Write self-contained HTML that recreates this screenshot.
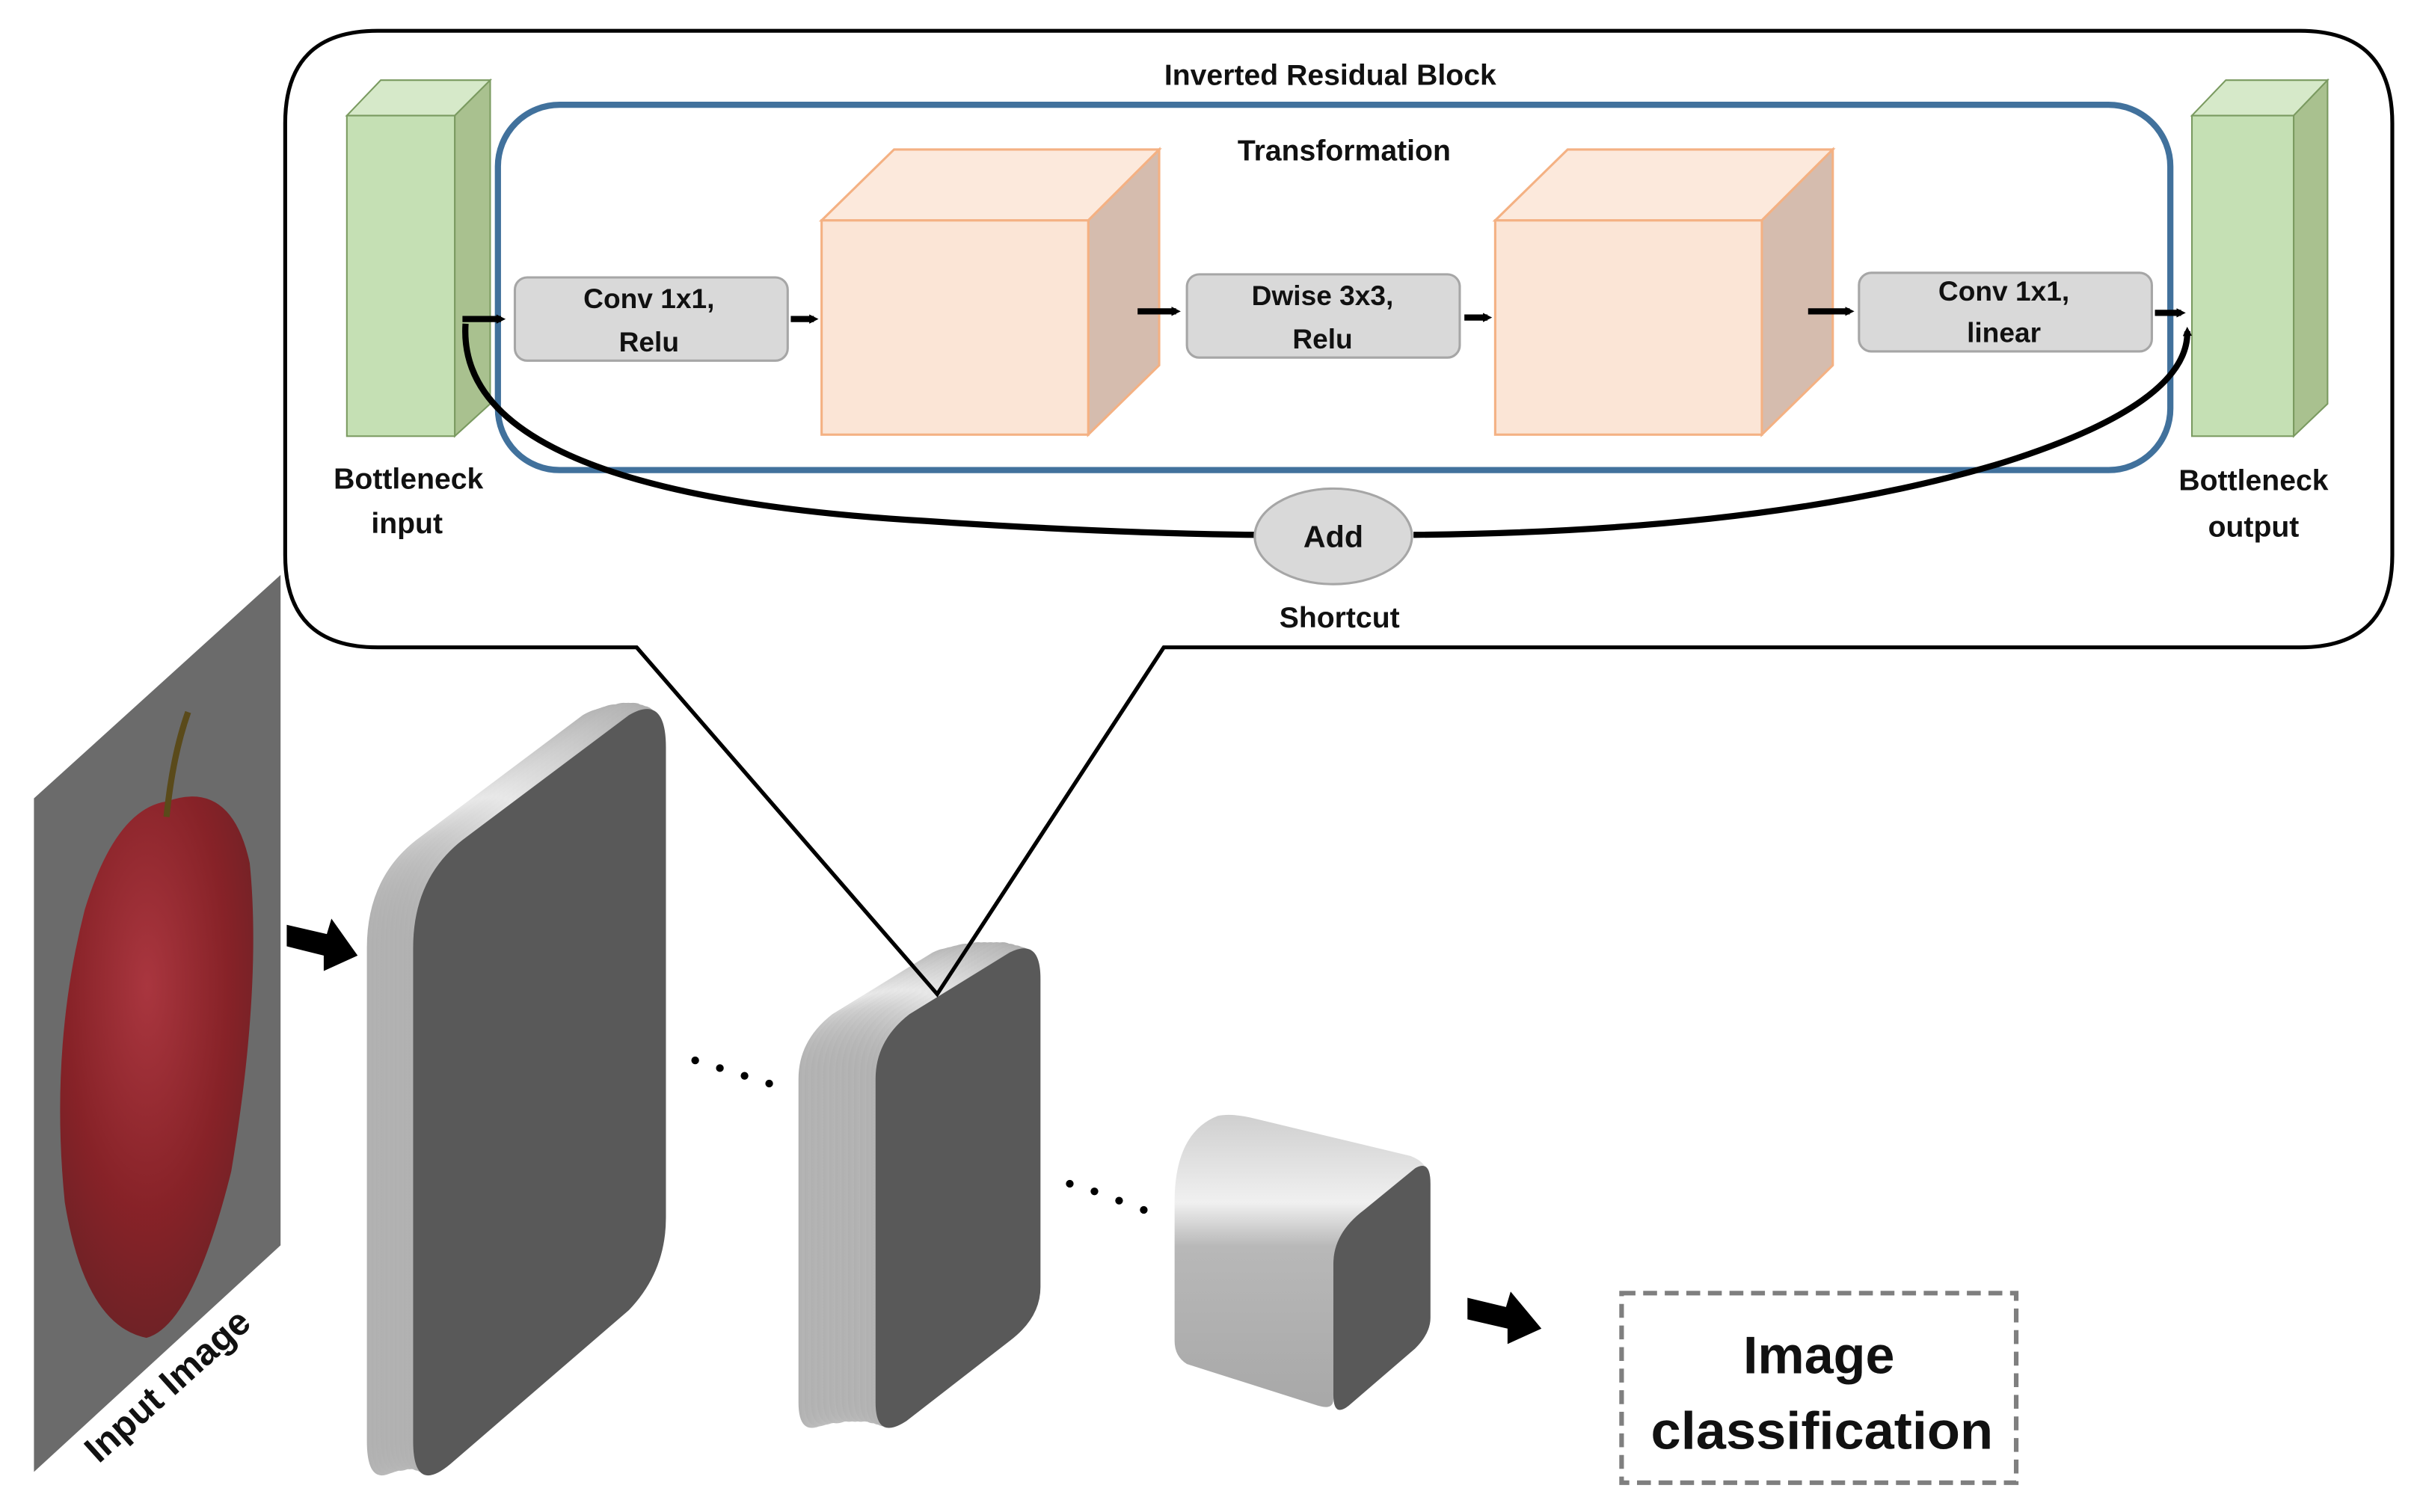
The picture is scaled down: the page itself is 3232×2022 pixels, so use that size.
<!DOCTYPE html>
<html><head><meta charset="utf-8"><style>
html,body{margin:0;padding:0;background:#fff;}
svg{display:block;}
text{font-family:"Liberation Sans",sans-serif;font-weight:bold;fill:#111;}
</style></head><body>
<svg width="3232" height="2022" viewBox="0 0 1568 981" xmlns="http://www.w3.org/2000/svg">
<defs>
<linearGradient id="lg" x1="0" y1="0" x2="1" y2="0"><stop offset="0" stop-color="#b0b0b0"/><stop offset="0.4" stop-color="#e8e8e8"/><stop offset="1" stop-color="#a8a8a8"/></linearGradient>
<linearGradient id="cg" x1="0" y1="0" x2="0" y2="1"><stop offset="0" stop-color="#cfcfcf"/><stop offset="0.3" stop-color="#f0f0f0"/><stop offset="0.45" stop-color="#b8b8b8"/><stop offset="1" stop-color="#a8a8a8"/></linearGradient>
<radialGradient id="ap" cx="0.45" cy="0.35" r="0.7"><stop offset="0" stop-color="#b0303a"/><stop offset="0.6" stop-color="#8a1a20"/><stop offset="1" stop-color="#6a1a1e"/></radialGradient>
<marker id="ah" markerWidth="6" markerHeight="6" refX="3" refY="3" orient="auto" markerUnits="userSpaceOnUse"><path d="M0,0 L6,3 L0,6 Z" fill="#000"/></marker>
<path id="s1" d="M268,615 Q268,570 300,545 L408,464 Q432,450 432,485 L432,790 Q432,825 408,850 L292,950 Q268,970 268,935 Z"/>
<path id="s2" d="M568,700 Q568,675 590,658 L655,618 Q675,608 675,635 L675,835 Q675,855 655,870 L588,922 Q568,935 568,910 Z"/>
</defs>

<!-- callout -->
<path d="M245,20 H1492 Q1552,20 1552,80 V360 Q1552,420 1492,420 H755 L608,645 L413,420 H245 Q185,420 185,360 V80 Q185,20 245,20 Z" fill="#fff" stroke="#000" stroke-width="2.5"/>
<text x="863" y="55" font-size="19" text-anchor="middle">Inverted Residual Block</text>

<rect x="323" y="68" width="1085" height="237" rx="40" fill="none" stroke="#41719c" stroke-width="4"/>
<text x="872" y="104" font-size="19" text-anchor="middle">Transformation</text>

<!-- green blocks -->
<polygon points="225,75 247,52 318,52 295,75" fill="#d6e9c9" stroke="#7a9a60"/>
<polygon points="295,75 318,52 318,262 295,283" fill="#a9c18f" stroke="#7a9a60"/>
<rect x="225" y="75" width="70" height="208" fill="#c5e0b4" stroke="#7a9a60"/>
<polygon points="1422,75 1444,52 1510,52 1488,75" fill="#d6e9c9" stroke="#7a9a60"/>
<polygon points="1488,75 1510,52 1510,262 1488,283" fill="#a9c18f" stroke="#7a9a60"/>
<rect x="1422" y="75" width="66" height="208" fill="#c5e0b4" stroke="#7a9a60"/>

<!-- orange cubes -->
<g stroke="#f4b183" stroke-width="1.5">
<polygon points="533,143 580,97 752,97 706,143" fill="#fce9dc"/>
<polygon points="706,143 752,97 752,237 706,282" fill="#d5bcae"/>
<rect x="533" y="143" width="173" height="139" fill="#fbe5d6"/>
<polygon points="970,143 1017,97 1189,97 1143,143" fill="#fce9dc"/>
<polygon points="1143,143 1189,97 1189,237 1143,282" fill="#d5bcae"/>
<rect x="970" y="143" width="173" height="139" fill="#fbe5d6"/>
</g>

<!-- gray op boxes -->
<g fill="#d9d9d9" stroke="#a6a6a6" stroke-width="1.5">
<rect x="334" y="180" width="177" height="54" rx="8"/>
<rect x="770" y="178" width="177" height="54" rx="8"/>
<rect x="1206" y="177" width="190" height="51" rx="8"/>
</g>
<text x="421" y="200" font-size="18" text-anchor="middle">Conv 1x1,</text>
<text x="421" y="228" font-size="18" text-anchor="middle">Relu</text>
<text x="858" y="198" font-size="18" text-anchor="middle">Dwise 3x3,</text>
<text x="858" y="226" font-size="18" text-anchor="middle">Relu</text>
<text x="1300" y="195" font-size="18" text-anchor="middle">Conv 1x1,</text>
<text x="1300" y="222" font-size="18" text-anchor="middle">linear</text>

<!-- small arrows -->
<g stroke="#000" stroke-width="4" marker-end="url(#ah)">
<line x1="300" y1="207" x2="325" y2="207"/>
<line x1="513" y1="207" x2="528" y2="207"/>
<line x1="738" y1="202" x2="763" y2="202"/>
<line x1="950" y1="206" x2="965" y2="206"/>
<line x1="1173" y1="202" x2="1200" y2="202"/>
<line x1="1398" y1="203" x2="1415" y2="203"/>
</g>

<!-- shortcut -->
<path d="M302,210 Q295,320 600,338 Q720,346 815,347" fill="none" stroke="#000" stroke-width="4"/>
<path d="M917,347 Q1150,345 1300,300 Q1420,262 1419,215" fill="none" stroke="#000" stroke-width="4" marker-end="url(#ah)"/>
<ellipse cx="865" cy="348" rx="51" ry="31" fill="#d9d9d9" stroke="#a6a6a6" stroke-width="1.5"/>
<text x="865" y="355" font-size="20" text-anchor="middle">Add</text>
<text x="869" y="407" font-size="19" text-anchor="middle">Shortcut</text>
<text x="265" y="317" font-size="19" text-anchor="middle">Bottleneck</text>
<text x="264" y="346" font-size="19" text-anchor="middle">input</text>
<text x="1462" y="318" font-size="19" text-anchor="middle">Bottleneck</text>
<text x="1462" y="348" font-size="19" text-anchor="middle">output</text>

<!-- input image -->
<polygon points="22,518 182,373 182,808 22,955" fill="#6b6b6b"/>
<path d="M108,520 Q150,505 162,560 Q170,640 150,760 Q125,860 95,868 Q55,860 42,780 Q32,680 55,590 Q75,525 108,520 Z" fill="url(#ap)" opacity="0.9"/>
<path d="M108,530 Q112,490 122,462" stroke="#5a4a1a" stroke-width="4" fill="none"/>
<text x="0" y="0" font-size="24" transform="translate(64,950) rotate(-42)">Input Image</text>

<!-- arrows -->
<polygon points="186,600 212,606 215,596 232,620 210,630 210,620 186,614" fill="#000"/>
<polygon points="952,842 977,848 980,838 1000,862 978,872 978,862 952,856" fill="#000"/>

<!-- slab 1 -->
<g fill="url(#lg)">
<use href="#s1" transform="translate(-30,0)"/><use href="#s1" transform="translate(-27,-1)"/><use href="#s1" transform="translate(-24,-2)"/><use href="#s1" transform="translate(-21,-3)"/><use href="#s1" transform="translate(-18,-3)"/><use href="#s1" transform="translate(-15,-4)"/><use href="#s1" transform="translate(-12,-4)"/><use href="#s1" transform="translate(-9,-4)"/><use href="#s1" transform="translate(-6,-3)"/><use href="#s1" transform="translate(-3,-2)"/>
</g>
<use href="#s1" fill="#595959"/>

<!-- slab 2 -->
<g fill="url(#lg)">
<use href="#s2" transform="translate(-50,0)"/><use href="#s2" transform="translate(-46,-1)"/><use href="#s2" transform="translate(-42,-2)"/><use href="#s2" transform="translate(-38,-3)"/><use href="#s2" transform="translate(-34,-3)"/><use href="#s2" transform="translate(-30,-4)"/><use href="#s2" transform="translate(-26,-4)"/><use href="#s2" transform="translate(-22,-4)"/><use href="#s2" transform="translate(-18,-4)"/><use href="#s2" transform="translate(-14,-4)"/><use href="#s2" transform="translate(-10,-3)"/><use href="#s2" transform="translate(-6,-2)"/><use href="#s2" transform="translate(-3,-1)"/>
</g>
<use href="#s2" fill="#595959"/>

<!-- pointer lines over slab -->
<polyline points="413,420 608,645 755,420" fill="none" stroke="#000" stroke-width="2.5"/>

<!-- cube 3 -->
<path d="M762,780 Q762,735 790,724 Q800,722 815,726 L915,750 Q928,755 925,765 L870,805 Q865,810 865,820 L865,908 Q865,915 855,912 L770,885 Q762,880 762,870 Z" fill="url(#cg)"/>
<path d="M865,820 Q865,800 885,785 L918,758 Q928,752 928,768 L928,855 Q928,865 918,875 L875,912 Q865,920 865,905 Z" fill="#595959"/>

<!-- dots -->
<g fill="#000">
<circle cx="451" cy="688" r="2.5"/><circle cx="467" cy="693" r="2.5"/><circle cx="483" cy="698" r="2.5"/><circle cx="499" cy="703" r="2.5"/>
<circle cx="694" cy="768" r="2.5"/><circle cx="710" cy="773" r="2.5"/><circle cx="726" cy="779" r="2.5"/><circle cx="742" cy="785" r="2.5"/>
</g>

<!-- result box -->
<rect x="1052" y="839" width="256" height="123" fill="none" stroke="#7f7f7f" stroke-width="3" stroke-dasharray="9,5"/>
<text x="1180" y="891" font-size="34" text-anchor="middle">Image</text>
<text x="1182" y="940" font-size="34" text-anchor="middle" textLength="222" lengthAdjust="spacingAndGlyphs">classification</text>
</svg>
</body></html>
